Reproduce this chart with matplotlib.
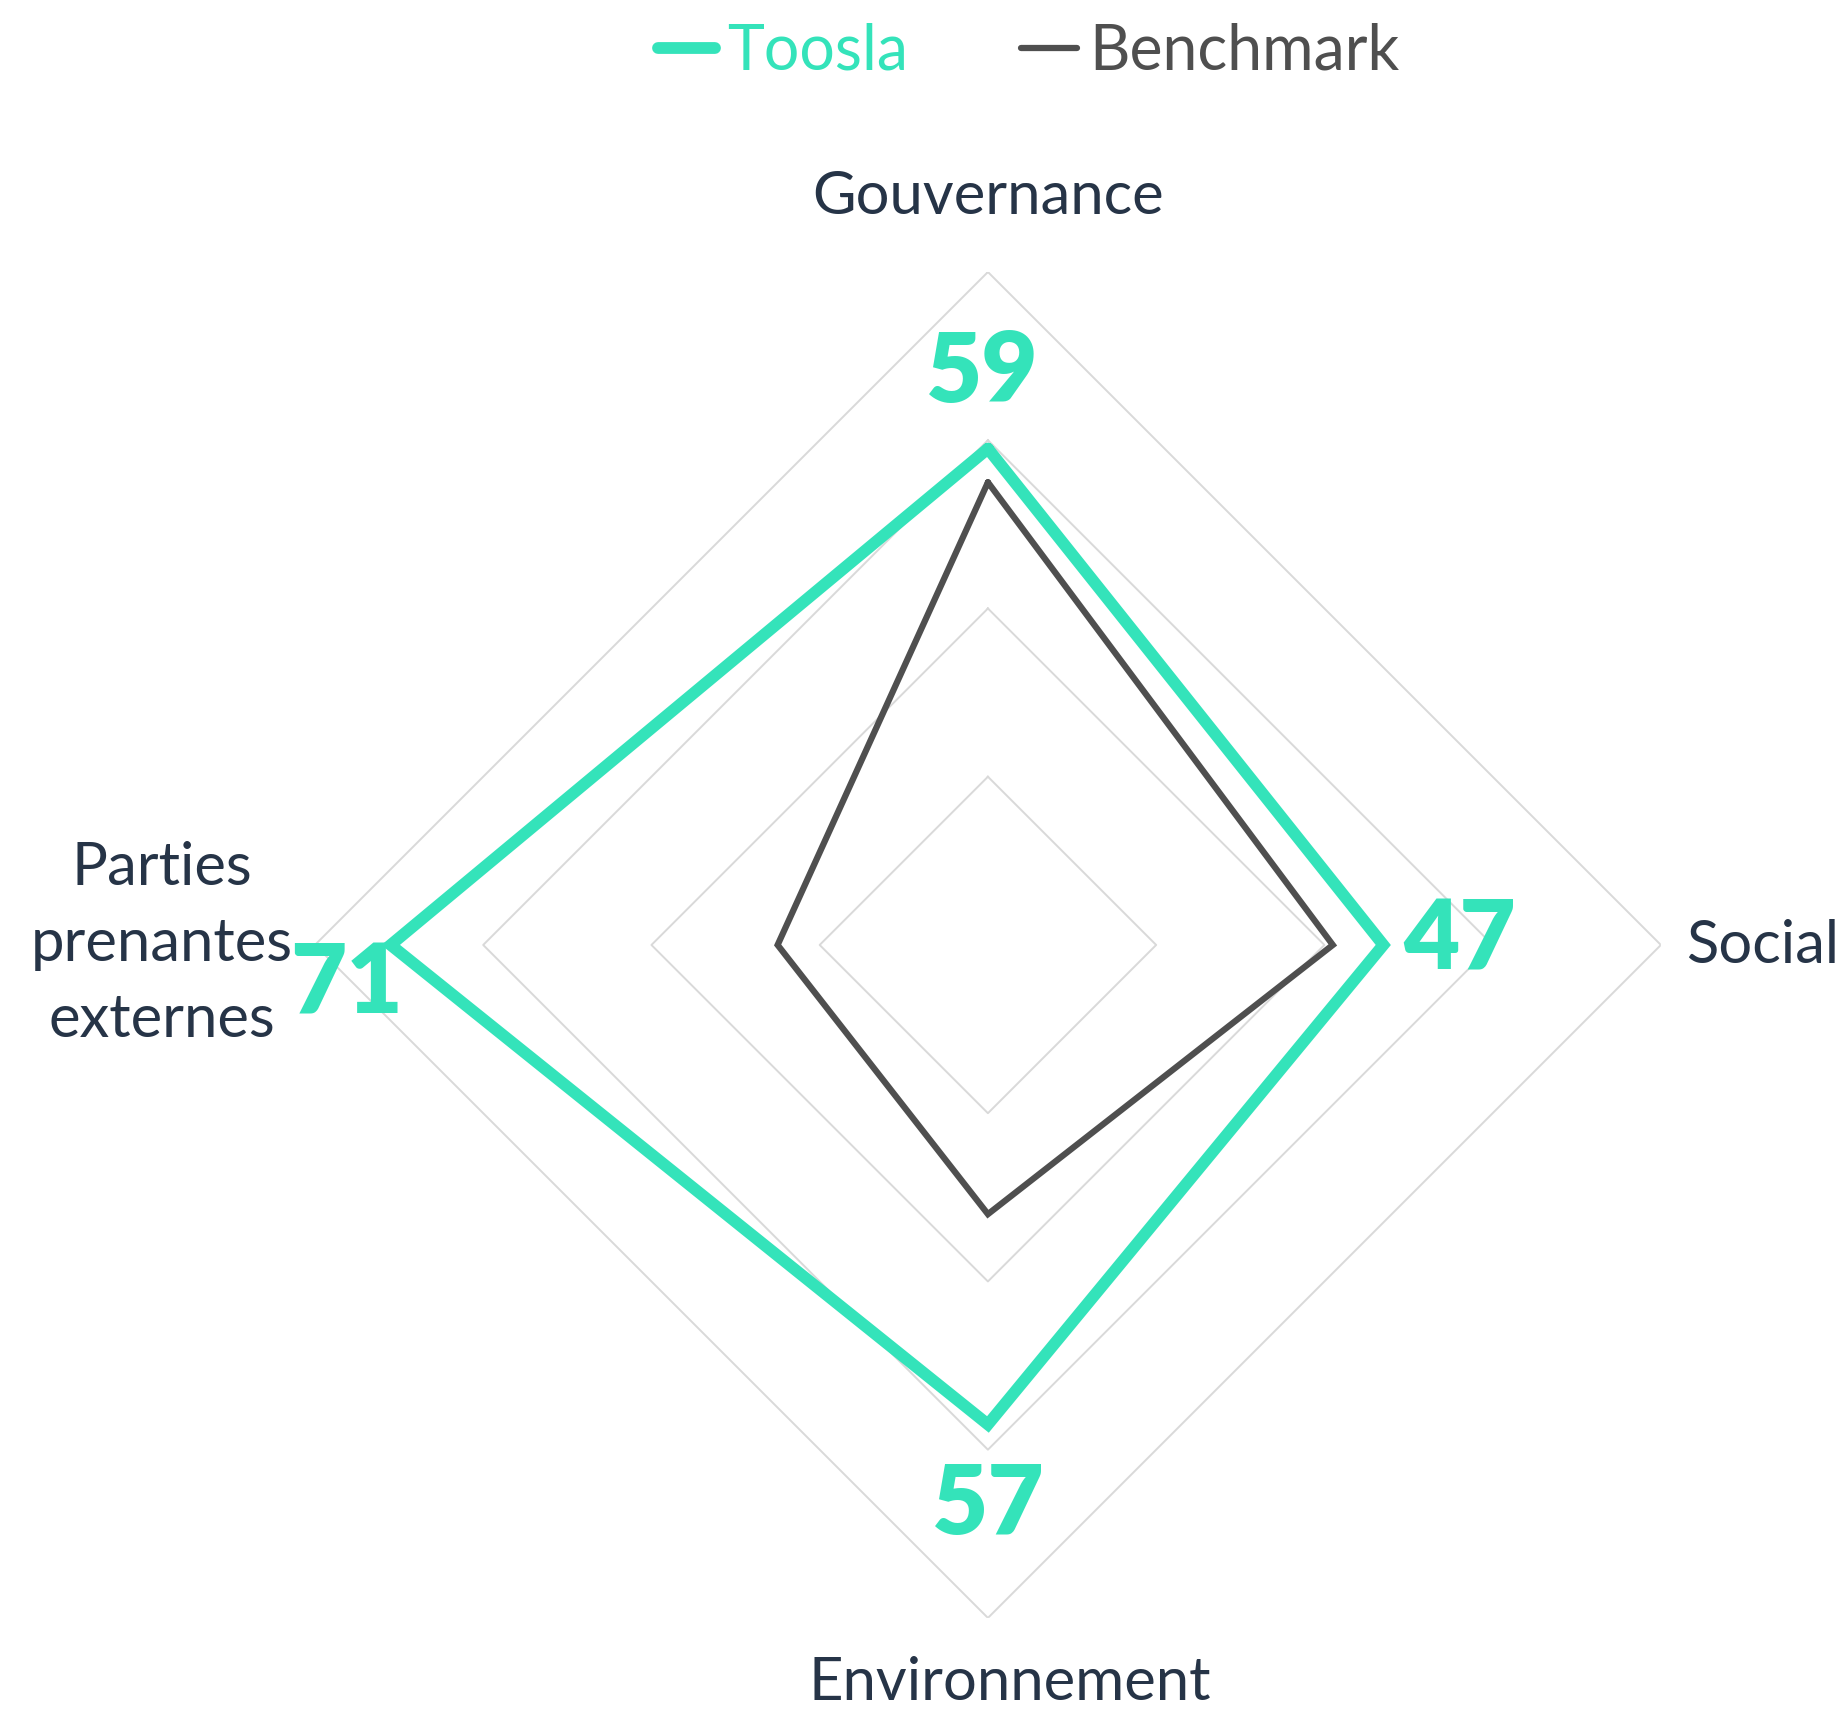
import numpy as np
import matplotlib.pyplot as plt

plt.rcParams["font.family"] = ["Lato", "DejaVu Sans"]

# axes, clockwise from the top
categories = ["Gouvernance", "Social", "Environnement", "Parties\nprenantes\nexternes"]
toosla = [59, 47, 57, 71]
benchmark = [55, 41, 32, 25]
rings = [20, 40, 60, 80]

teal = "#34E3BA"
grey = "#4F4F4F"
txt_col = "#263447"

fig = plt.figure(figsize=(18.44, 17.13), dpi=100)
ax = fig.add_axes([0.1708, 0.05546, 0.7299, 0.7858], projection="polar")
ax.set_theta_zero_location("N")
ax.set_theta_direction(-1)

n = len(categories)
theta = np.linspace(0, 2 * np.pi, n, endpoint=False)
theta_c = np.append(theta, theta[0])

# diamond grid
for r in rings:
    ax.plot(theta_c, [r] * (n + 1), color="#D9D9D9", lw=1.4, zorder=1)

ax.plot(theta_c, np.append(benchmark, benchmark[0]), color=grey, lw=4.5,
        solid_joinstyle="miter", solid_capstyle="round", label="Benchmark", zorder=3)
ax.plot(theta_c, np.append(toosla, toosla[0]), color=teal, lw=8.5,
        solid_joinstyle="miter", solid_capstyle="round", label="Toosla", zorder=4)

ax.set_ylim(0, rings[-1])
ax.set_xticks([])
ax.set_yticks([])
ax.grid(False)
ax.spines["polar"].set_visible(False)
ax.set_facecolor("none")

# value labels
offsets = [(-4, 54), (55, 3), (0, -58), (-32, -29)]
for t, v, off in zip(theta, toosla, offsets):
    ax.annotate(str(v), xy=(t, v), xytext=off, textcoords="offset points",
                ha="center", va="center", fontsize=70, fontweight="heavy", color=teal)

# category labels
ax.text(theta[0], 88.9, categories[0], ha="center", va="center", fontsize=43, color=txt_col)
ax.annotate(categories[1], xy=(theta[1], rings[-1]), xytext=(18, -1), textcoords="offset points",
            ha="left", va="center", fontsize=43, color=txt_col)
ax.annotate(categories[2], xy=(theta[2], rings[-1]), xytext=(16, -47), textcoords="offset points",
            ha="center", va="center", fontsize=43, color=txt_col)
ax.annotate(categories[3], xy=(theta[3], rings[-1]), xytext=(-110, 1), textcoords="offset points",
            ha="center", va="center", fontsize=43, color=txt_col, linespacing=1.5)

h, l = ax.get_legend_handles_labels()
leg = fig.legend(h[::-1], l[::-1], loc="center", bbox_to_anchor=(0.558, 0.970), ncol=2,
                 frameon=False, fontsize=45, handlelength=0.9, handletextpad=0.2,
                 columnspacing=1.8, labelcolor="linecolor")

fig.savefig("out.png", dpi=100, facecolor="white")
